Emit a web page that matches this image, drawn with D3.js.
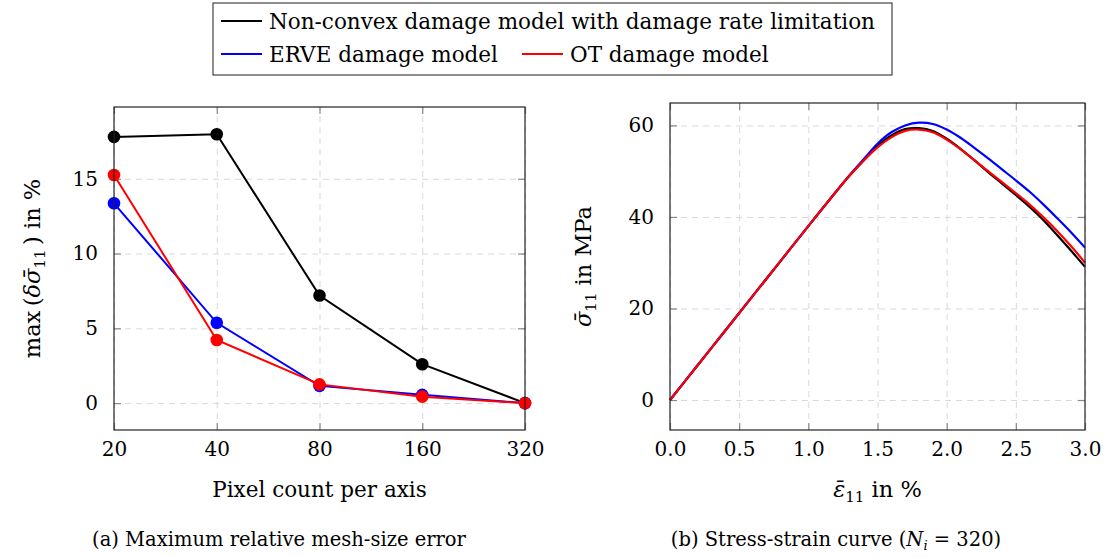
<!DOCTYPE html>
<html><head><meta charset="utf-8">
<script src="https://cdn.jsdelivr.net/npm/d3@7"></script>
<style>
body{margin:0;background:#fff;}
</style></head>
<body>
<svg id="c" width="1111" height="557"></svg>
<script>
// ---- data ----
const pixelCounts = [20, 40, 80, 160, 320];
const errNonConvex = [17.8, 17.98, 7.19, 2.6, 0];
const errERVE = [13.36, 5.37, 1.15, 0.55, 0];
const errOT = [15.25, 4.22, 1.25, 0.43, 0];

const strain = [0, 0.2, 0.4, 0.6, 0.8, 1.0, 1.2, 1.3, 1.4, 1.5, 1.6, 1.7, 1.8, 1.9, 2.0, 2.1, 2.2, 2.3, 2.4, 2.5, 2.6, 2.7, 2.8, 2.9, 3.0];
const stressNonConvex = [0, 7.6, 15.2, 22.8, 30.4, 38.0, 45.5, 49.1, 52.4, 55.5, 57.8, 59.2, 59.4, 58.8, 57.1, 54.9, 52.4, 49.8, 47.3, 44.8, 42.2, 39.3, 36.0, 32.6, 29.1];
const stressERVE = [0, 7.6, 15.2, 22.8, 30.4, 38.0, 45.5, 49.2, 52.6, 56.0, 58.5, 60.0, 60.6, 60.3, 59.1, 57.3, 55.1, 52.8, 50.4, 48.0, 45.5, 42.7, 39.7, 36.6, 33.3];
const stressOT = [0, 7.6, 15.2, 22.8, 30.4, 38.0, 45.5, 49.1, 52.3, 55.2, 57.4, 58.8, 59.1, 58.5, 56.9, 54.8, 52.4, 50.0, 47.6, 45.2, 42.7, 39.9, 36.9, 33.6, 30.0];

const errTicks = [0, 5, 10, 15];
const stressTicks = [0, 20, 40, 60];
const strainTicks = [0, 0.5, 1.0, 1.5, 2.0, 2.5, 3.0];

const seriesNames = ["Non-convex damage model with damage rate limitation", "ERVE damage model", "OT damage model"];
const seriesColors = ["#000000", "#0000ff", "#ff0000"];

const FONT = "'DejaVu Serif', 'Liberation Serif', 'Noto Serif', serif";
const svg = d3.select("#c").attr("font-family", FONT);
const FS = 20;     // tick labels
const LFS = 21.5;  // axis labels / legend
const CFS = 19.5;  // captions

function styleFrame(g, x0, x1, y0, y1) {
  g.append("rect").attr("x", x0).attr("y", y0).attr("width", x1 - x0).attr("height", y1 - y0)
    .attr("fill", "none").attr("stroke", "#222").attr("stroke-width", 1.2);
}

function drawAxes(g, x, y, xTicks, yTicks, xFmt, yFmt) {
  const [x0, x1] = x.range();
  const [y1, y0] = y.range();
  const gx = g.append("g").attr("transform", `translate(0,${y1})`)
    .call(d3.axisBottom(x).tickValues(xTicks).tickSize(-(y1 - y0)).tickFormat(""));
  const gy = g.append("g").attr("transform", `translate(${x0},0)`)
    .call(d3.axisLeft(y).tickValues(yTicks).tickSize(-(x1 - x0)).tickFormat(""));
  [gx, gy].forEach(a => {
    a.select(".domain").remove();
    a.selectAll("line").attr("stroke", "#d9d9d9").attr("stroke-width", 1).attr("stroke-dasharray", "6,5");
  });
  const tl = 7;
  const axes = [
    g.append("g").attr("transform", `translate(0,${y1})`).call(d3.axisBottom(x).tickValues(xTicks).tickSize(-tl).tickFormat(xFmt).tickPadding(12)),
    g.append("g").attr("transform", `translate(0,${y0})`).call(d3.axisTop(x).tickValues(xTicks).tickSize(-tl).tickFormat("")),
    g.append("g").attr("transform", `translate(${x0},0)`).call(d3.axisLeft(y).tickValues(yTicks).tickSize(-tl).tickFormat(yFmt).tickPadding(16)),
    g.append("g").attr("transform", `translate(${x1},0)`).call(d3.axisRight(y).tickValues(yTicks).tickSize(-tl).tickFormat(""))
  ];
  axes.forEach(a => {
    a.attr("font-family", FONT).attr("font-size", FS);
    a.select(".domain").remove();
    a.selectAll("line").attr("stroke", "#888").attr("stroke-width", 1.2);
    a.selectAll("text").attr("fill", "#000");
  });
  axes[0].selectAll("text").attr("dy", "0.71em");
}

// ---------- Left plot ----------
const L = {x0: 114, x1: 525, y0: 107, y1: 430};
const xL = d3.scaleLog().base(2).domain([20, 320]).range([L.x0, L.x1]);
const yL = d3.scaleLinear().domain([-1.8, 19.8]).range([L.y1, L.y0]);
const gL = svg.append("g");
drawAxes(gL, xL, yL, pixelCounts, errTicks, d => d, d => d);

const errSeries = [errNonConvex, errERVE, errOT];
errSeries.forEach((vals, i) => {
  const pts = pixelCounts.map((p, j) => [p, vals[j]]);
  gL.append("path").datum(pts)
    .attr("d", d3.line().x(d => xL(d[0])).y(d => yL(d[1])))
    .attr("fill", "none").attr("stroke", seriesColors[i]).attr("stroke-width", 2);
  gL.selectAll(null).data(pts).enter().append("circle")
    .attr("cx", d => xL(d[0])).attr("cy", d => yL(d[1])).attr("r", 6.3)
    .attr("fill", seriesColors[i]);
});
styleFrame(gL, L.x0, L.x1, L.y0, L.y1);

gL.append("text").attr("x", (L.x0 + L.x1) / 2).attr("y", 497).attr("text-anchor", "middle")
  .attr("font-size", LFS).text("Pixel count per axis");
{
  const t = gL.append("text").attr("transform", `translate(40,${(L.y0 + L.y1) / 2}) rotate(-90)`)
    .attr("text-anchor", "middle").attr("font-size", LFS + 1);
  t.append("tspan").text("max\u2009(");
  t.append("tspan").attr("font-style", "italic").text("\u03B4\u03C3\u0304");
  t.append("tspan").attr("font-size", 15).attr("dy", 5).text("11");
  t.append("tspan").attr("dy", -5).text("\u2009) in %");
}
gL.append("text").attr("x", 279).attr("y", 546).attr("text-anchor", "middle")
  .attr("font-size", CFS).text("(a) Maximum relative mesh-size error");

// ---------- Right plot ----------
const R = {x0: 670, x1: 1085, y0: 103, y1: 430};
const xR = d3.scaleLinear().domain([0, 3]).range([R.x0, R.x1]);
const yR = d3.scaleLinear().domain([-6.55, 64.9]).range([R.y1, R.y0]);
const gR = svg.append("g");
drawAxes(gR, xR, yR, strainTicks, stressTicks, d3.format(".1f"), d => d);

const stressSeries = [stressNonConvex, stressERVE, stressOT];
stressSeries.forEach((vals, i) => {
  const pts = strain.map((s, j) => [s, vals[j]]);
  gR.append("path").datum(pts)
    .attr("d", d3.line().curve(d3.curveCatmullRom.alpha(0.5)).x(d => xR(d[0])).y(d => yR(d[1])))
    .attr("fill", "none").attr("stroke", seriesColors[i]).attr("stroke-width", 2.2);
});
styleFrame(gR, R.x0, R.x1, R.y0, R.y1);

{
  const t = gR.append("text").attr("x", (R.x0 + R.x1) / 2).attr("y", 497).attr("text-anchor", "middle").attr("font-size", LFS + 1);
  t.append("tspan").attr("font-style", "italic").text("\u03B5\u0304");
  t.append("tspan").attr("font-size", 15).attr("dy", 5).text("11");
  t.append("tspan").attr("dy", -5).text(" in %");
}
{
  const t = gR.append("text").attr("transform", `translate(591,${(R.y0 + R.y1) / 2}) rotate(-90)`)
    .attr("text-anchor", "middle").attr("font-size", LFS + 1);
  t.append("tspan").attr("font-style", "italic").text("\u03C3\u0304");
  t.append("tspan").attr("font-size", 15).attr("dy", 5).text("11");
  t.append("tspan").attr("dy", -5).text(" in MPa");
}
{
  const t = gR.append("text").attr("x", 836).attr("y", 546).attr("text-anchor", "middle").attr("font-size", CFS);
  t.append("tspan").text("(b) Stress-strain curve (");
  t.append("tspan").attr("font-style", "italic").text("N");
  t.append("tspan").attr("font-style", "italic").attr("font-size", 13).attr("dy", 4).text("i");
  t.append("tspan").attr("dy", -4).text(" = 320)");
}

// ---------- Legend ----------
const gLeg = svg.append("g");
gLeg.append("rect").attr("x", 213).attr("y", 3).attr("width", 679).attr("height", 72)
  .attr("fill", "#fff").attr("stroke", "#444").attr("stroke-width", 1.2);
const legItems = [
  {name: seriesNames[0], color: seriesColors[0], x: 221, y: 21},
  {name: seriesNames[1], color: seriesColors[1], x: 221, y: 54},
  {name: seriesNames[2], color: seriesColors[2], x: 522, y: 54}
];
legItems.forEach(it => {
  gLeg.append("line").attr("x1", it.x).attr("x2", it.x + 41).attr("y1", it.y).attr("y2", it.y)
    .attr("stroke", it.color).attr("stroke-width", 2);
  gLeg.append("text").attr("x", it.x + 48).attr("y", it.y).attr("dy", "0.35em")
    .attr("font-size", LFS).text(it.name);
});
</script>
</body></html>
